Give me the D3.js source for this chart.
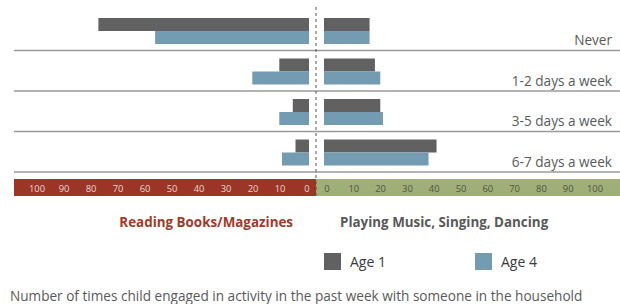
<!DOCTYPE html>
<html lang="en">
<head>
<meta charset="utf-8">
<title>Reading vs playing</title>
<script src="https://cdn.jsdelivr.net/npm/d3@7"></script>
<style>
  body { margin: 0; background: #ffffff; }
  text { font-family: "Open Sans", "Noto Sans", sans-serif; }
</style>
</head>
<body>
<div id="chart"></div>
<script>
// ---------------- data ----------------
var categories = ["Never", "1-2 days a week", "3-5 days a week", "6-7 days a week"];
var readingAge1 = [78, 11, 6, 5];
var readingAge4 = [57, 21, 11, 10];
var playingAge1 = [17, 19, 21, 42];
var playingAge4 = [17, 21, 22, 39];
var tickValues = [0, 10, 20, 30, 40, 50, 60, 70, 80, 90, 100];
var seriesNames = ["Age 1", "Age 4"];

// ---------------- setup ----------------
var width = 620, height = 304;
var col_age1 = "#616161", col_age4 = "#739bb1";
var col_red = "#9b3526", col_green = "#a0ae78", col_text = "#595959";

var svg = d3.select("#chart").append("svg")
    .attr("width", width)
    .attr("height", height);

var xL = d3.scaleLinear().domain([0, 100]).range([309, 39]);
var xR = d3.scaleLinear().domain([0, 100]).range([324, 592]);
var y = d3.scaleBand().domain(categories).range([10, 172]);
var barH = 13;

// separators
svg.selectAll(".sep").data(categories).enter().append("line")
    .attr("x1", 14).attr("x2", width)
    .attr("y1", function(d) { return y(d) + y.bandwidth(); })
    .attr("y2", function(d) { return y(d) + y.bandwidth(); })
    .attr("stroke", "#9a9a9a")
    .attr("stroke-width", 1.5);

function drawBars(vals, scale, left, offset, color) {
  svg.append("g").selectAll("rect").data(vals).enter().append("rect")
      .attr("x", function(d) { return left ? scale(d) : scale(0); })
      .attr("width", function(d) { return Math.abs(scale(d) - scale(0)); })
      .attr("y", function(d, i) { return y(categories[i]) + 8 + offset; })
      .attr("height", barH)
      .attr("fill", color);
}
drawBars(readingAge1, xL, true, 0, col_age1);
drawBars(readingAge4, xL, true, barH, col_age4);
drawBars(playingAge1, xR, false, 0, col_age1);
drawBars(playingAge4, xR, false, barH, col_age4);

// category labels
svg.selectAll(".cat").data(categories).enter().append("text")
    .attr("x", 612)
    .attr("y", function(d) { return y(d) + y.bandwidth() - 5.5; })
    .attr("text-anchor", "end")
    .attr("font-size", "13.6px")
    .attr("fill", col_text)
    .text(function(d) { return d; });

// axis band
svg.append("rect").attr("x", 14).attr("y", 179).attr("width", 316 - 14).attr("height", 17).attr("fill", col_red);
svg.append("rect").attr("x", 316).attr("y", 179).attr("width", width - 316).attr("height", 17).attr("fill", col_green);

svg.append("g").selectAll("text").data(tickValues).enter().append("text")
    .attr("x", function(d) { return xL(d) - 2; })
    .attr("y", 191.5)
    .attr("text-anchor", "middle")
    .attr("font-size", "9.4px")
    .attr("fill", "#ecd6d2")
    .text(function(d) { return d; });

svg.append("g").selectAll("text").data(tickValues).enter().append("text")
    .attr("x", function(d) { return xR(d) + 3; })
    .attr("y", 191.5)
    .attr("text-anchor", "middle")
    .attr("font-size", "9.4px")
    .attr("fill", "#4f5540")
    .text(function(d) { return d; });

// center dashed line
svg.append("line")
    .attr("x1", 316).attr("x2", 316)
    .attr("y1", 7).attr("y2", 196)
    .attr("stroke", "#555")
    .attr("stroke-width", 1)
    .attr("stroke-dasharray", "3,3");

// titles
svg.append("text")
    .attr("x", 293).attr("y", 227)
    .attr("text-anchor", "end")
    .attr("font-size", "13.4px")
    .attr("font-weight", "bold")
    .attr("fill", "#a23a2a")
    .text("Reading Books/Magazines");

svg.append("text")
    .attr("x", 340).attr("y", 227)
    .attr("font-size", "13.4px")
    .attr("font-weight", "bold")
    .attr("fill", col_text)
    .text("Playing Music, Singing, Dancing");

// legend
var legX = [324, 475];
var legCol = [col_age1, col_age4];
var leg = svg.selectAll(".leg").data(seriesNames).enter().append("g")
    .attr("transform", function(d, i) { return "translate(" + legX[i] + ",253)"; });
leg.append("rect").attr("width", 17).attr("height", 17)
    .attr("fill", function(d, i) { return legCol[i]; });
leg.append("text").attr("x", 26).attr("y", 14)
    .attr("font-size", "14px")
    .attr("fill", "#3a3a3a")
    .text(function(d) { return d; });

// footnote
svg.append("text")
    .attr("x", 10).attr("y", 301)
    .attr("font-size", "13.6px")
    .attr("fill", col_text)
    .text("Number of times child engaged in activity in the past week with someone in the household");
</script>
</body>
</html>
